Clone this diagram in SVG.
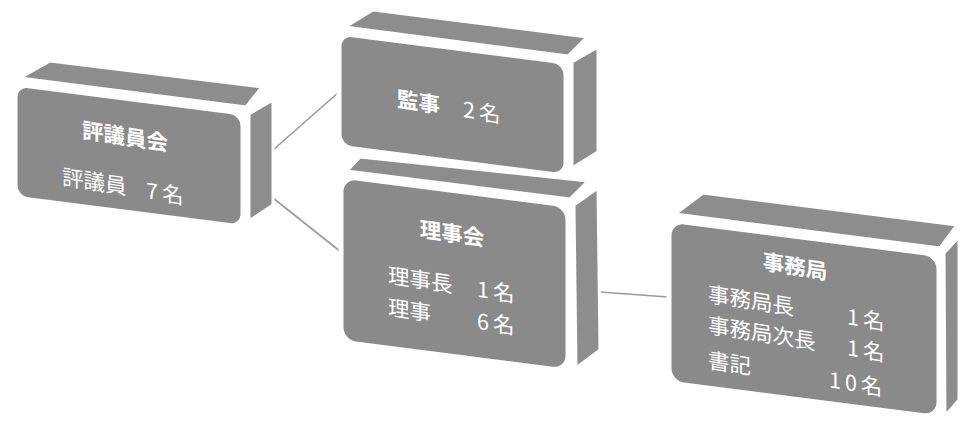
<svg xmlns="http://www.w3.org/2000/svg" width="961" height="430" viewBox="0 0 961 430">
  <style>
    .face { fill: #8d8d8d; stroke: #ffffff; stroke-width: 3; stroke-linejoin: round; }
    .front { fill: #8a8a8a; stroke: #ffffff; stroke-width: 5; }
    .conn { stroke: #9a9a9a; stroke-width: 1.6; fill: none; }
    text { font-family: "Noto Sans CJK JP", "Noto Sans", sans-serif; fill: #ffffff; font-size: 21.5px; dominant-baseline: central; }
    .title { font-weight: bold; }
    .num { letter-spacing: 4px; }
  </style>
  <rect x="0" y="0" width="961" height="430" fill="#ffffff"/>

  <g id="connectors">
    <line class="conn" x1="273" y1="150" x2="339" y2="92"/>
    <line class="conn" x1="273" y1="198" x2="341" y2="252"/>
    <line class="conn" x1="600" y1="292" x2="668" y2="297"/>
  </g>

  <g id="hyogiinkai">
    <polygon class="face" points="20,78 50,61 262,87 246,107"/>
    <polygon class="face" points="249,114 273,100 273,205 249,221"/>
    <g transform="translate(15,84) skewY(7.3)">
      <rect class="front" x="0" y="0" width="228" height="114" rx="13"/>
    </g>
    <g transform="translate(125,135) skewY(9)">
      <text class="title" x="0" y="0" text-anchor="middle">評議員会</text>
      <text x="-63" y="50">評議員<tspan class="num" x="21">7名</tspan></text>
    </g>
  </g>

  <g id="rijikai">
    <polygon class="face" points="347,171 360,157 588,181 570,199"/>
    <polygon class="face" points="574,205 598,188 600,350 576,368"/>
    <g transform="translate(341,176) skewY(7.3)">
      <rect class="front" x="0" y="0" width="227" height="166" rx="15"/>
    </g>
    <g transform="translate(452,232) skewY(8.5)">
      <text class="title" x="0" y="0" text-anchor="middle" font-size="22">理事会</text>
      <text x="-64" y="51">理事長<tspan class="num" x="25">1名</tspan></text>
      <text x="-64" y="83">理事<tspan class="num" x="25">6名</tspan></text>
    </g>
  </g>

  <g id="kanji">
    <polygon class="face" points="345,27 373,10 587,37 568,56"/>
    <polygon class="face" points="572,62 598,47 598,152 572,168"/>
    <g transform="translate(339,33) skewY(7.3)">
      <rect class="front" x="0" y="0" width="227" height="114" rx="13"/>
    </g>
    <g transform="translate(450,105) skewY(9)">
      <text x="-53" y="0"><tspan class="title">監事</tspan><tspan class="num" x="13">2名</tspan></text>
    </g>
  </g>

  <g id="jimukyoku">
    <polygon class="face" points="675,214 703,193 957,225 940,248"/>
    <polygon class="face" points="944,253 959,237 959,400 945,416"/>
    <g transform="translate(669,220) skewY(7.3)">
      <rect class="front" x="0" y="0" width="270" height="163" rx="15"/>
    </g>
    <g transform="translate(795,265) skewY(9)">
      <text class="title" x="0" y="0" text-anchor="middle">事務局</text>
      <text x="-87" y="41">事務局長<tspan class="num" x="52">1名</tspan></text>
      <text x="-87" y="72">事務局次長<tspan class="num" x="52">1名</tspan></text>
      <text x="-87" y="107">書記<tspan class="num" x="34">10名</tspan></text>
    </g>
  </g>
</svg>
